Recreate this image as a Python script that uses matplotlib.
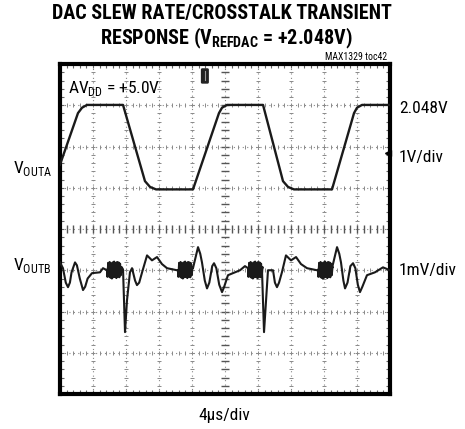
import numpy as np
import matplotlib
matplotlib.use('Agg')
import matplotlib.pyplot as plt
from matplotlib import font_manager
from matplotlib.patches import FancyBboxPatch

# condensed face for all labels
installed = {f.name for f in font_manager.fontManager.ttflist}
cond = next((n for n in ['Roboto Condensed', 'Archivo Narrow', 'Asap Condensed',
                         'Barlow Semi Condensed'] if n in installed), 'Liberation Sans')
plt.rcParams['font.family'] = [cond, 'DejaVu Sans']
plt.rcParams['mathtext.fontset'] = 'custom'
plt.rcParams['mathtext.rm'] = cond
plt.rcParams['mathtext.bf'] = cond + ':bold'

# scope settings
us_per_div = 4.0
va_per_div = 1.0      # V/div
vb_per_div = 1.0      # mV/div
va_pos = 4.96         # trace A ground position (div)
vb_pos = 3.0          # trace B centre position (div)

# VOUTA, time (us) / volts
t_a = [0, 2.18, 2.67, 3.27, 7.64, 10.30, 10.91, 11.64, 16.12, 19.27, 19.64, 20.24,
       24.61, 27.03, 27.64, 28.36, 32.97, 35.64, 36.00, 36.61, 40.0]
v_a = [0.60, 1.85, 1.98, 2.048, 2.048, 0.20, 0.06, 0.0, 0.0, 1.85, 1.98, 2.048,
       2.048, 0.20, 0.06, 0.0, 0.0, 1.85, 1.98, 2.048, 2.048]

# VOUTB, split into segments between the ringing bursts, time (us) / mV
seg_t = [
    [0, 0.36, 0.70, 0.97, 1.20, 1.40, 1.82, 2.05, 2.40, 2.79, 3.05, 3.35, 3.88, 4.85, 5.21, 5.70],
    [7.64, 7.76, 7.88, 8.12, 8.48, 8.73, 9.10, 9.33, 9.60, 9.95, 10.55, 11.15, 11.76,
     12.36, 12.97, 14.18, 14.30],
    [16.12, 16.73, 17.00, 17.21, 17.55, 17.82, 18.10, 18.45, 18.67, 18.95, 19.30, 19.64,
     19.90, 20.36, 21.21, 21.82, 22.42, 22.79],
    [24.48, 24.61, 24.73, 24.97, 25.21, 25.82, 26.05, 26.30, 26.55, 26.90, 27.39, 28.0,
     28.61, 29.21, 29.94, 31.15, 31.27],
    [32.97, 33.58, 33.85, 34.06, 34.35, 34.55, 34.85, 35.20, 35.52, 35.80, 36.10, 36.36,
     36.65, 37.21, 38.18, 39.15, 40.0],
]
seg_v = [
    [0.19, 0.05, -0.30, -0.41, -0.30, -0.05, 0.19, 0.12, -0.20, -0.48, -0.40, -0.20,
     -0.07, -0.05, 0.05, 0.0],
    [0.02, -0.73, -1.50, -0.73, -0.05, 0.05, -0.25, -0.36, -0.30, -0.05, 0.36, 0.24,
     0.32, 0.15, 0.05, 0.0, 0.0],
    [0.05, 0.56, 0.40, 0.19, -0.25, -0.44, -0.30, 0.10, 0.17, 0.05, -0.35, -0.53,
     -0.40, -0.12, -0.05, 0.0, 0.10, 0.05],
    [0.02, -0.73, -1.50, -0.73, 0.0, 0.0, -0.30, -0.41, -0.30, -0.05, 0.36, 0.24,
     0.32, 0.15, 0.05, 0.0, 0.0],
    [0.05, 0.56, 0.40, 0.19, -0.25, -0.44, -0.30, 0.10, 0.17, 0.05, -0.35, -0.53,
     -0.40, -0.12, -0.05, 0.07, 0.0],
]
# ringing burst (offset us from burst start / mV)
burst_dt = [0.05, 0.14, 0.23, 0.32, 0.41, 0.50, 0.59, 0.68, 0.77, 0.86, 0.95, 1.04,
            1.13, 1.22, 1.31, 1.40, 1.49, 1.58, 1.67, 1.76]
burst_v = [-0.16, 0.18, -0.15, 0.20, -0.18, 0.16, -0.20, 0.19, -0.17, 0.21, -0.16, 0.18,
           -0.19, 0.20, -0.15, 0.19, -0.17, 0.16, -0.12, 0.08]


def px(x, y):
    return x / 465.0, 1 - y / 429.0


fig = plt.figure(figsize=(4.65, 4.29), dpi=100)
ax = fig.add_axes([60 / 465, 35 / 429, 330 / 465, 330 / 429])
ax.set_xlim(0, 10)
ax.set_ylim(0, 8)

# graticule
gcol = '#8a8a8a'
minor_x = np.arange(0, 10.01, 0.2)
minor_y = np.arange(0, 8.01, 0.2)
for i in range(1, 10):
    ax.axvline(i, color=gcol, lw=0.8, ls=(0, (1, 3)), zorder=1)
    big = i == 5
    ax.plot([i] * len(minor_y), minor_y, ls='none', marker='_', ms=6 if big else 3,
            mew=1.0 if big else 0.7, color='#555555' if big else gcol, zorder=1)
for j in range(1, 8):
    ax.axhline(j, color=gcol, lw=0.8, ls=(0, (1, 3)), zorder=1)
    big = j == 4
    ax.plot(minor_x, [j] * len(minor_x), ls='none', marker='|', ms=6 if big else 3,
            mew=1.0 if big else 0.7, color='#555555' if big else gcol, zorder=1)

ax.set_xticks(np.arange(0, 11, 1))
ax.set_yticks(np.arange(0, 9, 1))
ax.set_xticks(minor_x, minor=True)
ax.set_yticks(minor_y, minor=True)
ax.tick_params(which='both', direction='in', top=True, right=True, length=3,
               width=0.8, color='#666666', labelbottom=False, labelleft=False)
for s in ax.spines.values():
    s.set_linewidth(3)
    s.set_color('black')

# traces
ta = np.array(t_a) / us_per_div
ya = va_pos + np.array(v_a) / va_per_div
ax.plot(ta, ya, color='#1a1a1a', lw=1.7, zorder=3, solid_joinstyle='round')

tb, vb = [], []
for k in range(len(seg_t)):
    tb += seg_t[k]
    vb += seg_v[k]
    if k < len(seg_t) - 1:
        start = seg_t[k][-1]
        tb += [start + d for d in burst_dt]
        vb += burst_v
tb = np.array(tb) / us_per_div
yb = vb_pos + np.array(vb) / vb_per_div
ax.plot(tb, yb, color='#1a1a1a', lw=1.5, zorder=3, solid_joinstyle='round')

# trigger and channel markers
ax.add_patch(FancyBboxPatch((4.31, 7.56), 0.16, 0.3, boxstyle='round,pad=0.02',
                            fc='#222222', ec='#222222', zorder=4))
ax.plot([4.39, 4.39], [7.62, 7.84], color='#9a9a9a', lw=0.8, zorder=5)
ax.plot([9.93], [5.84], marker='<', ms=5, color='black', clip_on=False, zorder=5)

# labels
fig.text(*px(222, 13), 'DAC SLEW RATE/CROSSTALK TRANSIENT', ha='center', va='center',
         fontsize=14.5, fontweight='bold')
fig.text(*px(226, 38), r'RESPONSE (V$_{\mathbf{REFDAC}}$ = +2.048V)', ha='center',
         va='center', fontsize=14.5, fontweight='bold')
fig.text(*px(387, 57), 'MAX1329 toc42', ha='right', va='center', fontsize=7)
fig.text(*px(68, 93), r'AV$_{\mathrm{DD}}$ = +5.0V', ha='left', va='baseline', fontsize=12.5)
fig.text(*px(13, 173), r'V$_{\mathrm{OUTA}}$', ha='left', va='baseline', fontsize=12.5)
fig.text(*px(13, 270), r'V$_{\mathrm{OUTB}}$', ha='left', va='baseline', fontsize=12.5)
fig.text(*px(399, 113), '2.048V', ha='left', va='baseline', fontsize=12.5)
fig.text(*px(399, 162), '1V/div', ha='left', va='baseline', fontsize=12.5)
fig.text(*px(399, 275), '1mV/div', ha='left', va='baseline', fontsize=12.5)
fig.text(*px(224, 420), '4\u03bcs/div', ha='center', va='baseline', fontsize=12.5)

fig.savefig('out.png', dpi=100)
